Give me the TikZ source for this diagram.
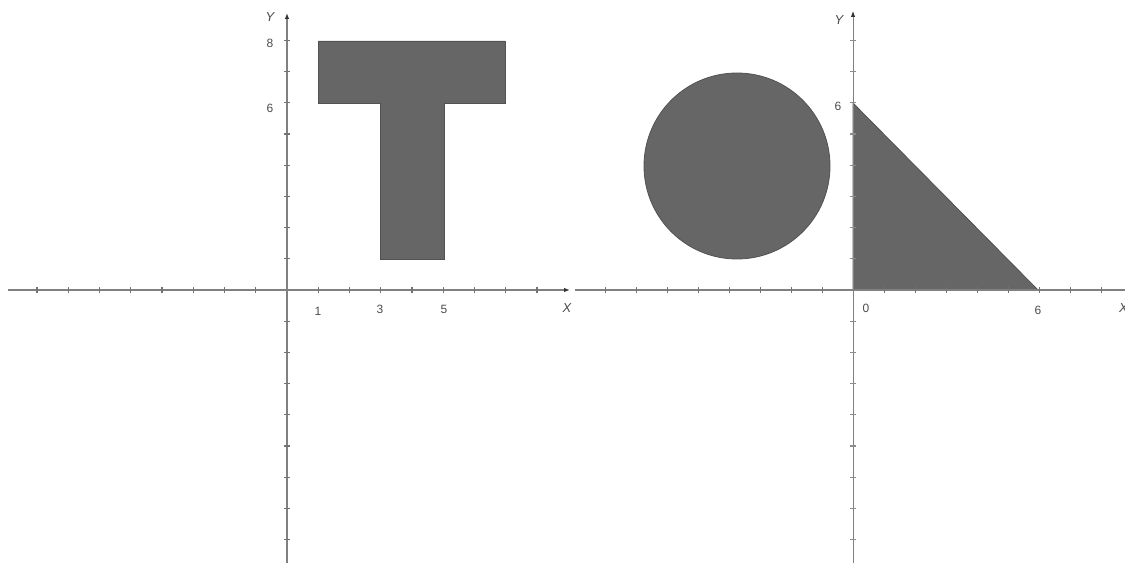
\documentclass[tikz,border=0pt]{standalone}
\usepackage{fontspec}
\setmainfont{Liberation Sans}
\usetikzlibrary{arrows.meta}
\begin{document}
\begin{tikzpicture}[x=1pt,y=-1pt,
  axis/.style={draw=black!50,line width=1.1pt,-{Latex[length=6pt,width=4.5pt,black!80]}},
  axisplain/.style={draw=black!50,line width=1.1pt},
  tickmark/.style={draw=black!55,line width=1.2pt},
  fillshape/.style={fill=black!60,draw=black!68,line width=0.8pt},
  lbl/.style={font=\fontsize{12}{12}\selectfont,text=black!70,inner sep=0pt},
  axlbl/.style={font=\itshape\fontsize{13}{13}\selectfont,text=black!70,inner sep=0pt}]
\useasboundingbox (0,0) rectangle (1125,564);
% ---- left system, origin (287,290), unit 31.25
\draw[fillshape] (318,41) -- (505,41) -- (505,103) -- (444,103) -- (444,259) -- (380,259) -- (380,103) -- (318,103) -- cycle;
\draw[axis] (8,290) -- (570,290);
\draw[axis] (287,563) -- (287,13);
\foreach \i in {-8,...,-1,1,2,...,8}
  \draw[tickmark] ({287+31.25*\i},287) -- ({287+31.25*\i},293);
\foreach \j in {-8,...,-1,1,2,...,8}
  \draw[tickmark] (284,{290-31.2*\j}) -- (290,{290-31.2*\j});
\node[lbl] (l8) at (270,43) {8};
\node[lbl] (l6) at (270,108) {6};
\node[lbl] (l1) at (318,311) {1};
\node[lbl] (l3) at (380,309) {3};
\node[lbl] (l5) at (444,309) {5};
\node[axlbl] (lx) at (567,308) {X};
\node[axlbl] (ly) at (270,17) {Y};
% ---- right system, origin (853,290), unit 31
\draw[fillshape] (737,166) circle (93);
\draw[fillshape] (853,103) -- (1038,290) -- (853,290) -- cycle;
\draw[axisplain] (575,290) -- (1125,290);
\draw[axis,line width=0.9pt] (853,563) -- (853,11);
\foreach \i in {-8,...,-1,1,2,...,8}
  \draw[tickmark,line width=0.9pt] ({853+31*\i},287) -- ({853+31*\i},293);
\foreach \j in {-8,...,-1,1,2,...,8}
  \draw[tickmark,line width=1.3pt,draw=black!45] (850,{290-31.2*\j}) -- (856,{290-31.2*\j});
\node[lbl] (r6y) at (838,106) {6};
\node[lbl] (r0) at (866,308) {0};
\node[lbl] (r6x) at (1038,310) {6};
\node[axlbl,anchor=west] (rx) at (1119,308) {X};
\node[axlbl] (ry) at (839,20) {Y};
\end{tikzpicture}
\end{document}
